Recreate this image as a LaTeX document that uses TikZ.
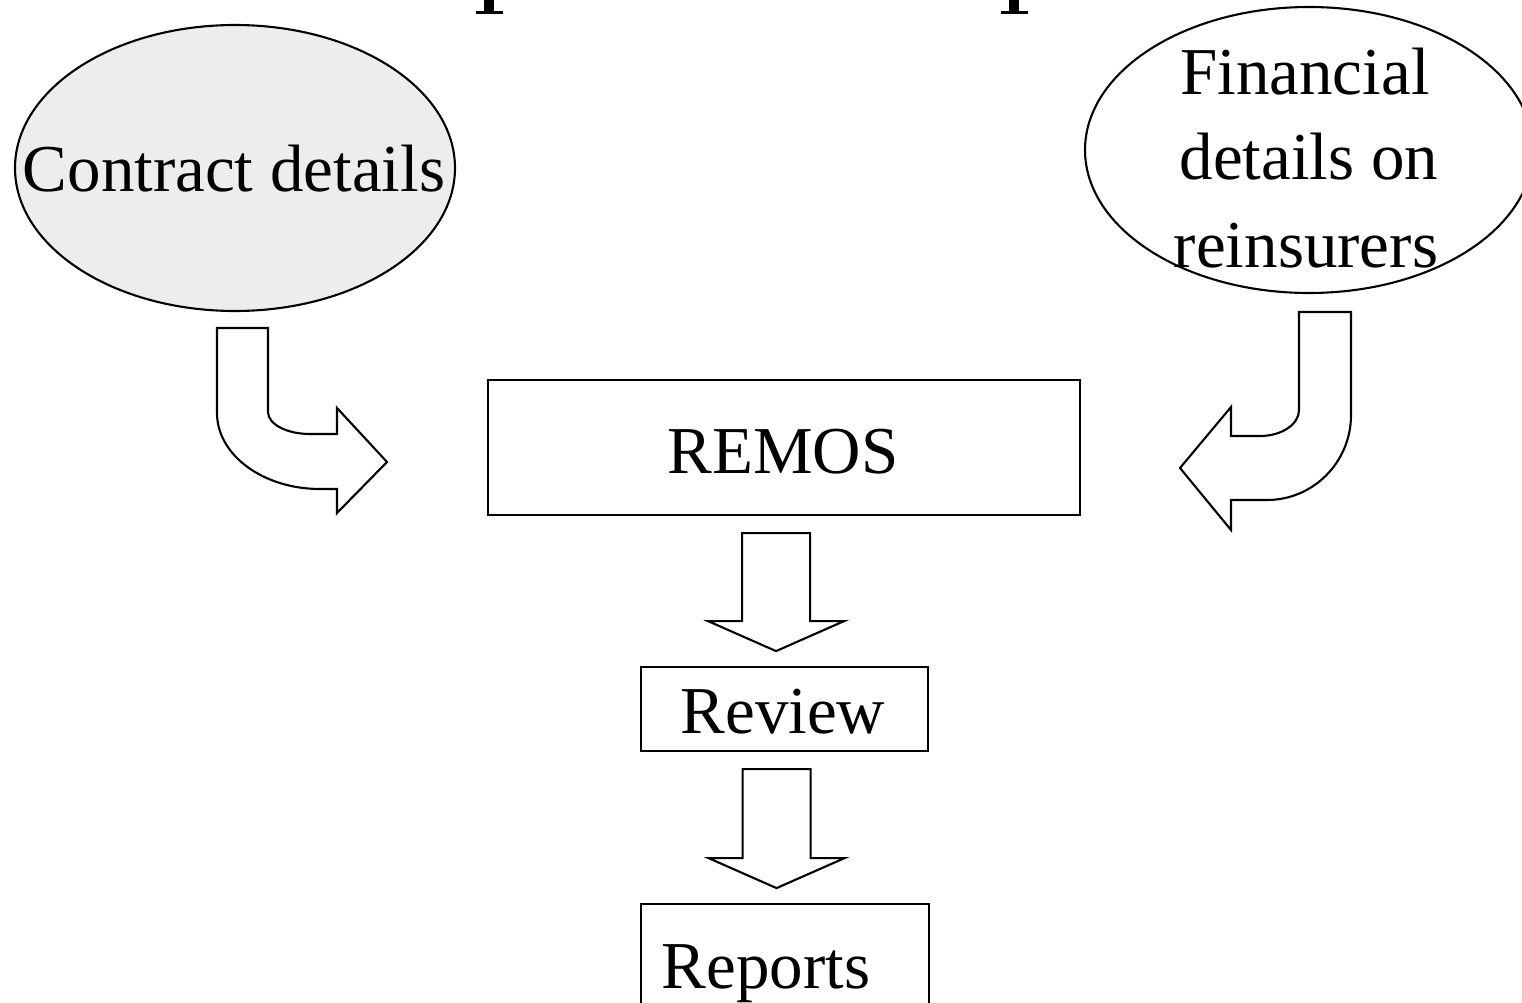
\documentclass[tikz,border=0pt]{standalone}
\usepackage{fontspec}
\setmainfont{Liberation Serif}
\usetikzlibrary{shapes.geometric,calc}
\definecolor{softgray}{HTML}{EDEDED}
\begin{document}
\begin{tikzpicture}[x={(1pt,0)}, y={(0,-1pt)}, line width=2.1pt,
  lbl/.style={font=\fontsize{67}{86}\selectfont, inner sep=0, anchor=base},
  boxnode/.style={draw, rectangle, inner sep=0, anchor=north west},
  oval/.style={draw, ellipse, inner sep=0},
  blockarrow/.style={draw, fill=white, line join=miter}]
\useasboundingbox (0,0) rectangle (1522,1003);

% feet of the heading letters above the frame
\fill (484,0) rectangle (494,11);
\fill (476,11) rectangle (503,14);
\fill (1009,0) rectangle (1019,11);
\fill (1001,11) rectangle (1028,14);

% sources
\node[oval, fill=softgray, minimum width=440, minimum height=286] (contract) at (235,168) {};
\node[lbl] (contracttxt) at (234,192) {Contract details};

\node[oval, minimum width=448, minimum height=286] (financial) at (1309,150) {};
\node[lbl] (fin1) at (1305,95) {Financial};
\node[lbl] (fin2) at (1309,180) {details on};
\node[lbl] (fin3) at (1306,267) {reinsurers};

% processing chain
\node[boxnode, minimum width=592, minimum height=135] (remos) at (487,379) {};
\node[lbl] (remostxt) at (783,473) {REMOS};

\node[boxnode, minimum width=287, minimum height=84] (review) at (640,666) {};
\node[lbl] (reviewtxt) at (783,733) {Review};

\node[boxnode, minimum width=288, minimum height=130] (reports) at (640,903) {};
\node[lbl] (reportstxt) at (766,988) {Reports};

% bent arrows feeding REMOS
\draw[blockarrow] (217,328) -- (268,328) -- (268,412)
  .. controls (268,424.2) and (286.8,434) .. (310,434)
  -- (337,434) -- (337,408) -- (387,462) -- (337,513) -- (337,489) -- (320,489)
  .. controls (263.1,489) and (217,455) .. (217,413) -- cycle;

\draw[blockarrow] (1299,312) -- (1351,312) -- (1351,415)
  .. controls (1351,462) and (1313.4,500) .. (1267,500)
  -- (1231,500) -- (1231,530) -- (1180,468) -- (1231,407) -- (1231,436) -- (1260,436)
  .. controls (1281.5,436) and (1299,424.4) .. (1299,410) -- cycle;

% straight arrows down the chain
\draw[blockarrow] ($(remos.south)+(-42,17)$) -- ++(68,0) -- ++(0,88) -- ++(34,0)
  -- ++(-68,30) -- ++(-68,-30) -- ++(34,0) -- cycle;
\draw[blockarrow] ($(review.south)+(-42,17)$) -- ++(68,0) -- ++(0,89) -- ++(34,0)
  -- ++(-68,30) -- ++(-68,-30) -- ++(34,0) -- cycle;
\end{tikzpicture}
\end{document}
